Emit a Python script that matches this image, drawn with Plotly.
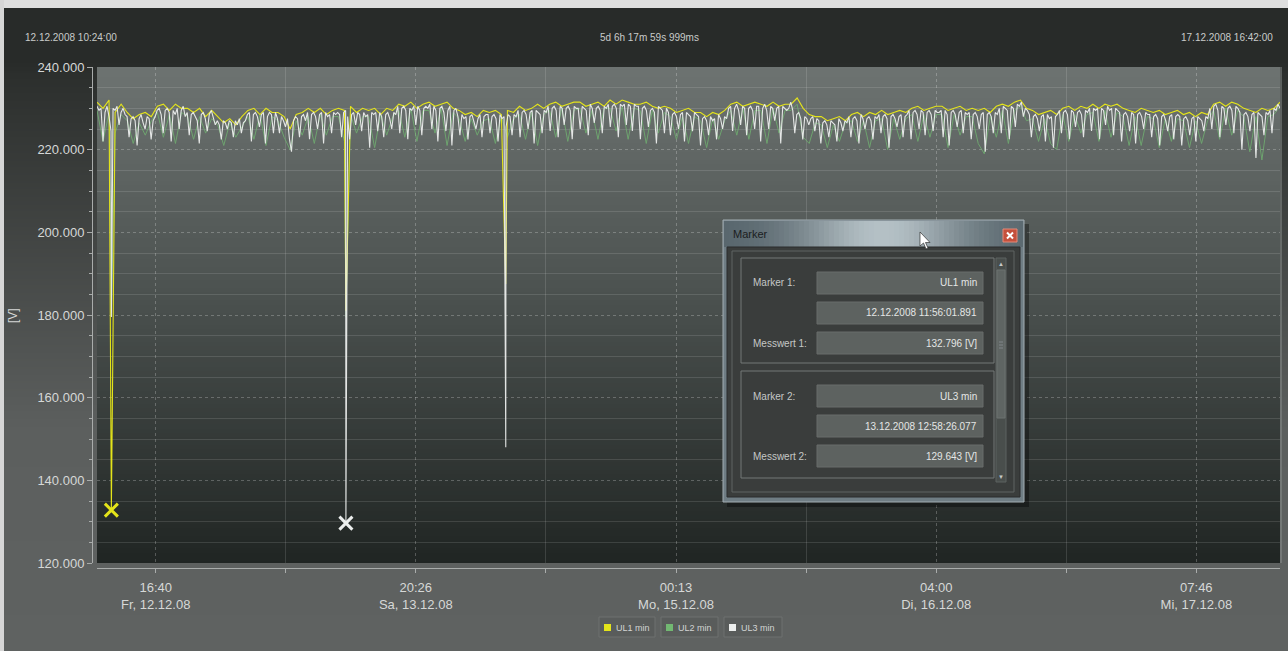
import numpy as np
import pandas as pd
import plotly.graph_objects as go

# ---------------------------------------------------------------- data
t_start = "2008-12-12 10:24:00"
t_end = "2008-12-17 16:42:00"
start_label = "12.12.2008 10:24:00"
duration_label = "5d 6h 17m 59s 999ms"
end_label = "17.12.2008 16:42:00"

# UL3 min [V], evenly sampled over the recording
ul3_min = [
    230.5, 229.5, 230, 222, 229, 230.5, 228, 224.5, 230, 229.5, 230.5, 226, 229, 230, 228.5,
    228, 223, 227.5, 228, 227, 221, 227.5, 228.5, 226.5, 225, 228, 227.5, 222.5, 227, 228,
    229.5, 230, 228.5, 224, 229.5, 230, 229, 222, 229.5, 228.5, 230, 225, 229.5, 230.5, 228,
    229, 223.5, 228.5, 229, 228, 227, 221.5, 228.5, 229, 227.5, 224.5, 228.5, 229.5, 228, 226,
    227, 226, 222.5, 227, 226.5, 225, 227, 226.5, 223, 227, 226, 227.5, 224, 226.5, 227,
    228.5, 229, 222, 228.5, 229, 228, 225.5, 228.5, 229, 221.5, 228, 229, 228.5, 224, 229,
    227.5, 224, 228, 227, 225.5, 227.5, 222.5, 219.5, 227, 228, 227.5, 223, 228, 228.5, 227,
    229, 222.5, 228.5, 229, 228, 225, 228.5, 229, 221.5, 229, 228, 228.5, 224, 229, 228.5,
    229, 228.5, 223, 229, 229.5, 228, 222.5, 228.5, 229, 226, 229, 228.5, 224.5, 229, 228,
    228.5, 220.5, 229, 228.5, 229, 224.5, 229, 228, 223, 228.5, 229, 227.5, 225, 229, 228.5,
    230.5, 224, 230, 230.5, 229.5, 222.5, 230, 229.5, 230.5, 226, 230.5, 229.5, 223.5, 230, 230.5,
    230, 231, 225, 230.5, 229.5, 222, 230, 230.5, 229, 224.5, 229.5, 230.5, 221, 229.5, 230,
    228, 223.5, 228.5, 227.5, 228, 222.5, 228, 228.5, 227, 225, 227.5, 228.5, 223, 228, 228.5,
    228.5, 224, 228, 228.5, 227.5, 222, 228.5, 227.5, 228, 225.5, 228.5, 228, 223.5, 228.5, 228,
    229.5, 223, 229, 229.5, 228.5, 225, 229, 229.5, 221.5, 229.5, 229, 228.5, 224, 229.5, 229,
    230.5, 224.5, 230, 230.5, 229.5, 223, 230.5, 230, 226, 230, 230.5, 229.5, 222.5, 230.5, 230,
    230, 225, 230.5, 230, 229.5, 223.5, 231, 230, 226.5, 230, 230.5, 229.5, 224, 230.5, 230,
    231, 225.5, 230.5, 231, 230, 223, 231, 230.5, 231, 226, 231, 230.5, 224.5, 231, 230.5,
    230.5, 222.5, 230, 230.5, 229.5, 225.5, 229.5, 230, 229, 221.5, 230.5, 230, 229.5, 224, 230,
    229, 223.5, 228.5, 229, 228, 225, 228.5, 229, 222, 229, 228.5, 228, 224.5, 229, 228.5,
    228, 221, 227.5, 228, 227, 223.5, 228, 227, 227.5, 222.5, 228.5, 227.5, 225, 228, 227.5,
    230, 230.5, 224.5, 230, 231, 229.5, 226, 230.5, 230, 223.5, 230, 230.5, 229.5, 225, 230.5,
    230.5, 222, 230, 231, 229.5, 225, 230.5, 230, 227, 230, 230.5, 221.5, 230.5, 230, 229.5,
    230, 231.5, 229.5, 224, 228.5, 229, 227.5, 222.5, 228, 227.5, 226, 227.5, 228, 224.5, 227.5,
    227, 221.5, 226.5, 227, 226, 223, 227, 226.5, 226, 222, 227.5, 226.5, 224.5, 227, 226.5,
    228, 223, 227.5, 228, 227, 221.5, 228.5, 227.5, 225, 227.5, 228, 227, 222.5, 228, 227.5,
    228.5, 224, 228, 228.5, 227.5, 220.5, 228, 228.5, 227.5, 225.5, 228, 228.5, 223, 228, 228.5,
    229.5, 222.5, 229, 229.5, 228.5, 225, 229.5, 229, 223.5, 229, 229.5, 228.5, 224.5, 229.5, 229,
    229, 229.5, 223, 229.5, 228.5, 221, 229, 229.5, 228.5, 225.5, 229, 229.5, 224, 229, 228.5,
    229, 222.5, 228.5, 229, 228, 225, 228.5, 229, 219.5, 228.5, 229, 228, 224, 229, 228.5,
    230, 224, 230.5, 230, 229.5, 222.5, 230.5, 230, 225.5, 231, 230.5, 231.5, 228, 230, 229.5,
    228.5, 223, 228, 228.5, 227.5, 224.5, 228, 228.5, 222, 228.5, 227.5, 228, 220.5, 228, 228.5,
    229.5, 224, 229, 229.5, 228.5, 222.5, 229.5, 229, 225.5, 229, 229.5, 228.5, 223, 229.5, 229,
    230, 224.5, 230, 229.5, 230, 222.5, 230, 229.5, 226, 230.5, 229.5, 230, 223.5, 230, 229.5,
    229, 222, 228.5, 229, 228, 224.5, 229, 228.5, 221.5, 228.5, 229, 228, 225, 229, 228.5,
    228.5, 223, 228, 228.5, 227.5, 221, 228, 228.5, 227, 224.5, 228, 228.5, 222.5, 228, 228.5,
    228, 221, 227.5, 228, 227, 223.5, 227.5, 228, 222, 228, 227.5, 227, 224.5, 228, 227.5,
    230, 225, 230.5, 231, 229.5, 223, 230.5, 230, 226, 230, 230.5, 229.5, 224, 230.5, 230,
    229, 220, 228.5, 229, 228, 224.5, 228.5, 229, 218, 229, 228.5, 228, 223.5, 229, 228.5,
    229.5, 224, 230, 229.5, 231, 230,
]

# UL1 min [V]
ul1_min = [
    231.5, 230, 232, 229, 231, 229, 227.5, 228.5, 229, 228,
    230.5, 231, 229.5, 231, 230, 230, 229, 230, 228, 229.5,
    228, 226.5, 227.5, 226, 228, 229.5, 230, 228.5, 230, 229,
    229, 228, 225, 228.5, 229, 230, 229, 230, 228.5, 229.5,
    230, 229.5, 230.5, 229, 230, 229.5, 230, 228.5, 230, 229.5,
    231, 230.5, 231.5, 230, 231, 231.5, 230.5, 231, 231.5, 230,
    229.5, 228.5, 229, 228, 229.5, 229, 229.5, 228.5, 229.5, 229,
    230.5, 229.5, 230, 231, 230, 231, 231.5, 230.5, 231, 231.5,
    231.5, 230.5, 231, 231.5, 230.5, 232, 231, 232, 231.5, 231,
    231, 231.5, 230.5, 230, 230.5, 230, 229, 229.5, 230, 229,
    229, 228, 229, 228.5, 229.5, 231, 231.5, 230.5, 231, 231.5,
    231, 230.5, 231.5, 230.5, 231, 231, 232.5, 230, 228.5, 228,
    228, 227, 227.5, 228, 227, 228.5, 229, 228, 229, 228.5,
    229.5, 228.5, 229, 229.5, 229, 230, 230.5, 229.5, 230, 230.5,
    230.5, 229.5, 230, 230.5, 229.5, 230, 229.5, 230, 229, 230.5,
    231, 230.5, 231.5, 232, 230, 229.5, 228.5, 229, 229.5, 228.5,
    230, 230.5, 229.5, 230.5, 230, 231, 230, 231, 230.5, 231,
    230, 229.5, 229, 230, 229.5, 229, 229.5, 228.5, 229, 229.5,
    228.5, 229, 228, 229, 228.5, 231, 231.5, 230.5, 231.5, 231,
    230, 229.5, 229, 230, 229.5, 230, 231.5,
]

# UL2 min [V]
ul2_min = [
    229.5, 222, 229, 224, 228.5, 227, 221.5, 226.5, 223.5, 227,
    229, 223, 228.5, 221.5, 229, 228, 222.5, 228, 224, 227.5,
    226, 221, 226.5, 223, 225.5, 228, 222.5, 228.5, 221, 228,
    227, 223, 220, 227, 223.5, 228, 221.5, 228.5, 223.5, 228,
    228, 222, 228.5, 224, 228, 228, 220.5, 228.5, 223.5, 228,
    229.5, 223, 230, 222, 229.5, 229.5, 224, 230, 221, 229,
    227.5, 222, 227.5, 223.5, 227, 227.5, 221.5, 228, 223, 227.5,
    228.5, 222.5, 229, 221, 228.5, 229.5, 223, 230, 222, 229.5,
    230, 224, 229.5, 222.5, 230, 230, 224.5, 230.5, 222.5, 230,
    229.5, 221.5, 229.5, 224, 229, 228, 222.5, 228, 221.5, 228,
    227, 220.5, 227.5, 222.5, 227, 229.5, 223.5, 230, 222.5, 229.5,
    229.5, 221.5, 230, 224, 229.5, 229.5, 231, 223, 221.5, 226.5,
    226, 220.5, 226, 222, 226.5, 227, 222, 227, 220.5, 227,
    227.5, 220, 227.5, 222.5, 227.5, 228.5, 222, 228.5, 223, 228.5,
    228.5, 220.5, 228.5, 223.5, 228, 228, 221.5, 219, 228, 223,
    229.5, 221.5, 229.5, 230.5, 227, 227.5, 222, 227.5, 221.5, 220,
    228.5, 222, 228.5, 224, 228.5, 229, 222, 229.5, 223, 229,
    228, 221, 228, 221, 228, 227.5, 220.5, 227.5, 222, 227.5,
    227, 220.5, 227, 221.5, 227, 229.5, 222.5, 230, 223.5, 229.5,
    228, 219.5, 228, 217.5, 228, 228.5, 230.5,
]

# short voltage dips (time, minimum value)
ul1_dip_t = ["2008-12-12 11:56:01.891", "2008-12-13 12:58:20.000", "2008-12-14 06:02:00.000"]
ul1_dip_v = [132.796, 181.0, 187.5]
ul2_dip_t = ["2008-12-12 11:56:05.000", "2008-12-13 12:58:30.000"]
ul2_dip_v = [180.5, 179.5]
ul3_dip_t = ["2008-12-12 11:56:10.000", "2008-12-13 12:58:26.077", "2008-12-14 06:02:30.000"]
ul3_dip_v = [179.5, 129.643, 148.0]

# placed markers
marker_series = ["UL1 min", "UL3 min"]
marker_t = ["2008-12-12 11:56:01.891", "2008-12-13 12:58:26.077"]
marker_v = [132.796, 129.643]

series_names = ["UL1 min", "UL2 min", "UL3 min"]

tick_times = ["2008-12-12 16:40", "2008-12-13 20:26", "2008-12-15 00:13",
              "2008-12-16 04:00", "2008-12-17 07:46"]
tick_text = ["16:40<br>Fr, 12.12.08", "20:26<br>Sa, 13.12.08", "00:13<br>Mo, 15.12.08",
             "04:00<br>Di, 16.12.08", "07:46<br>Mi, 17.12.08"]
y_min, y_max = 120, 240

# ---------------------------------------------------------------- styling
W, H = 1288, 651
PL, PR, PT, PB = 97, 1280, 67, 563          # plot area in pixels
C_UL1, C_UL2, C_UL3 = "#e4e41a", "#72b872", "#eceeed"
FONT = "Liberation Sans"


def px(x):
    return x / W


def py(y):
    return 1 - y / H


def to_dt(values):
    return pd.to_datetime(values, format="ISO8601")


def build(vals, dip_t, dip_v):
    t = pd.date_range(t_start, t_end, periods=len(vals))
    s = pd.concat([pd.Series(vals, index=t),
                   pd.Series(dip_v, index=to_dt(dip_t))]).sort_index()
    return s.index, s.values


def mix(c1, c2, f):
    a = [int(c1[i:i + 2], 16) for i in (1, 3, 5)]
    b = [int(c2[i:i + 2], 16) for i in (1, 3, 5)]
    return "rgb(%d,%d,%d)" % tuple(round(a[k] + (b[k] - a[k]) * f) for k in range(3))


fig = go.Figure()

# page background (vertical gradient)
rows = np.arange(0, H + 2, 2)
fig.add_trace(go.Heatmap(
    x=[0, W], y=rows, z=[[r, r] for r in rows], xaxis="x", yaxis="y",
    colorscale=[[0, "#282b29"], [62 / H, "#282b29"], [75 / H, "#2c2f2d"],
                [430 / H, "#5c5f5e"], [1, "#5f6261"]],
    zmin=0, zmax=H, showscale=False, hoverinfo="skip"))

# plot area background (gray at top, dark at bottom)
levels = np.linspace(y_min, y_max, 121)
fig.add_trace(go.Heatmap(
    x=[0, 1], y=levels, z=[[v, v] for v in levels], xaxis="x2", yaxis="y2",
    colorscale=[[0, "#202523"], [0.55, "#4c5250"], [1, "#6d7371"]],
    zmin=y_min, zmax=y_max, showscale=False, hoverinfo="skip"))

# measurement series
for vals, dt, dv, col, name, lw, op in [
        (ul2_min, ul2_dip_t, ul2_dip_v, C_UL2, series_names[1], 1, 0.75),
        (ul1_min, ul1_dip_t, ul1_dip_v, C_UL1, series_names[0], 1.1, 1),
        (ul3_min, ul3_dip_t, ul3_dip_v, C_UL3, series_names[2], 1.1, 0.95)]:
    tx, vy = build(vals, dt, dv)
    fig.add_trace(go.Scatter(x=tx, y=vy, mode="lines", name=name, opacity=op,
                             line=dict(color=col, width=lw), xaxis="x3", yaxis="y3",
                             hoverinfo="skip"))

fig.add_trace(go.Scatter(
    x=to_dt(marker_t), y=marker_v, mode="markers", xaxis="x3", yaxis="y3",
    marker=dict(symbol="x-thin", size=13, line=dict(width=3, color=[C_UL1, C_UL3])),
    hoverinfo="skip"))

tick_dt = pd.to_datetime(tick_times)
minor_dt = [tick_dt[i] + (tick_dt[i + 1] - tick_dt[i]) / 2 for i in range(len(tick_dt) - 1)]

AXC = "#a9acab"
fig.update_layout(
    template="none",
    width=W, height=H, autosize=False,
    margin=dict(l=0, r=0, t=0, b=0, pad=0, autoexpand=False),
    paper_bgcolor="#5e6160", plot_bgcolor="rgba(0,0,0,0)", showlegend=False,
    font=dict(family=FONT, color="#d4d6d5"),
    xaxis=dict(domain=[0, 1], range=[0, W], visible=False, fixedrange=True, automargin=False),
    yaxis=dict(domain=[0, 1], range=[H, 0], visible=False, fixedrange=True, automargin=False),
    xaxis2=dict(domain=[px(PL), px(PR)], range=[0, 1], visible=False, anchor="y2",
                automargin=False),
    yaxis2=dict(domain=[py(PB), py(PT)], range=[y_min, y_max], visible=False, anchor="x2",
                automargin=False),
    xaxis3=dict(
        domain=[px(PL), px(PR)], range=[pd.Timestamp(t_start), pd.Timestamp(t_end)],
        type="date", anchor="free", position=py(568), automargin=False,
        showline=True, linecolor=AXC, linewidth=1,
        ticks="outside", ticklen=4, tickcolor=AXC, ticklabelstandoff=3,
        tickmode="array", tickvals=tick_dt, ticktext=tick_text,
        tickfont=dict(family=FONT, size=13, color="#d6d8d7"),
        showgrid=True, gridcolor="rgba(255,255,255,0.24)", griddash="3px,3px", gridwidth=1,
        zeroline=False,
        minor=dict(tickmode="array", tickvals=minor_dt, ticks="outside", ticklen=4,
                   tickcolor=AXC, showgrid=True, gridcolor="rgba(255,255,255,0.13)",
                   griddash="solid"),
    ),
    yaxis3=dict(
        domain=[py(PB), py(PT)], range=[y_min, y_max], anchor="free", position=px(92),
        automargin=False,
        showline=True, linecolor=AXC, linewidth=1,
        ticks="outside", ticklen=5, tickcolor=AXC, tick0=y_min, dtick=20,
        tickformat=".3f", tickfont=dict(family=FONT, size=13, color="#d6d8d7"),
        showgrid=True, gridcolor="rgba(255,255,255,0.24)", griddash="3px,3px",
        zeroline=False,
        minor=dict(dtick=5, ticks="outside", ticklen=3, tickcolor=AXC,
                   showgrid=True, gridcolor="rgba(255,255,255,0.12)", griddash="solid"),
    ),
)

shapes = []
annos = []


def rect(x0, y0, x1, y1, fill=None, line=None, lw=1):
    shapes.append(dict(type="rect", xref="paper", yref="paper",
                       x0=px(x0), x1=px(x1), y0=py(y1), y1=py(y0),
                       fillcolor=fill or "rgba(0,0,0,0)",
                       line=dict(color=line or "rgba(0,0,0,0)", width=lw if line else 0),
                       layer="above"))


def seg(x0, y0, x1, y1, color, w=1):
    shapes.append(dict(type="line", xref="paper", yref="paper",
                       x0=px(x0), x1=px(x1), y0=py(y0), y1=py(y1),
                       line=dict(color=color, width=w), layer="above"))


def text(x, y, s, size=10, color="#d4d6d5", anchor="left", angle=0):
    annos.append(dict(xref="paper", yref="paper", x=px(x), y=py(y), text=s,
                      showarrow=False, xanchor=anchor, yanchor="middle", textangle=angle,
                      font=dict(family=FONT, size=size, color=color)))


# outer light frame
rect(0, 0, W, 8, fill="#dedede")
rect(0, 0, 4, H, fill="#d6d6d6")
# thin light edge on the right of the plot area
seg(PR + 1, PT, PR + 1, PB, "#8a8f8d", 1)

# header
text(23, 37, start_label, 10, "#c9cbca", "left")
text(649, 37, duration_label, 10, "#c9cbca", "center")
text(1275, 37, end_label, 10, "#c9cbca", "right")
text(13, 316, "[V]", 12, "#d6d8d7", "center", -90)

# legend
leg_boxes = [(599, 655), (661, 718), (724, 782)]
for (x0, x1), name, col in zip(leg_boxes, series_names, [C_UL1, C_UL2, C_UL3]):
    rect(x0, 617, x1, 637, fill="#595c5b", line="#6e7170")
    rect(x0 + 5, 624, x0 + 12, 631, fill=col)
    text(x0 + 15, 627.5, name, 9, "#d2d4d3", "left")

# marker window
rect(727, 224, 1029, 507, fill="rgba(0,0,0,0.35)")
rect(723, 220, 1024, 502, fill="#6f7d84", line="#a3aeb3")
strip = 5
for x in range(724, 1023, strip):
    f = float(np.exp(-((x - 880) / 85.0) ** 2))
    rect(x, 221, min(x + strip, 1023), 247, fill=mix("#56646b", "#b4c0c5", f))
rect(727, 247, 1020, 497, fill="#3a3d3c", line="#2b2d2c")
rect(732, 251, 1014, 492, line="#5f6563")
text(731, 234, "Marker", 11, "#1b1d1e", "left")
# close button
rect(1003, 229, 1017, 242, fill="#c5503c", line="#e48a78")
seg(1007, 232.5, 1013, 238.5, "#ffffff", 2)
seg(1007, 238.5, 1013, 232.5, "#ffffff", 2)

field_rows = []
for k, (name, ts, val) in enumerate(zip(marker_series, marker_t, marker_v)):
    stamp = pd.Timestamp(ts)
    ts_txt = stamp.strftime("%d.%m.%Y %H:%M:%S.") + "%03d" % (stamp.microsecond // 1000)
    field_rows.append((name, ts_txt, f"{val:.3f} [V]"))

groups = [(258, 363, 272), (371, 478, 385)]
for k, ((g0, g1, f0), vals) in enumerate(zip(groups, field_rows)):
    rect(741, g0, 994, g1, line="#737876")
    for j, s in enumerate(vals):
        y0 = f0 + j * 30
        rect(817, y0, 983, y0 + 22, fill="#5d6260", line="#686d6b")
        text(979, y0 + 11, s, 10, "#e4e6e5", "right")
    text(751, f0 + 11, f"Marker {k + 1}:", 10, "#c5c8c6", "left")
    text(751, f0 + 71, f"Messwert {k + 1}:", 10, "#c5c8c6", "left")

# scrollbar
rect(996, 258, 1006, 482, fill="#494e4c", line="#5d6260")
rect(997, 270, 1005, 418, fill="#5f6563", line="#6c7270")
text(1001, 264, "▲", 6, "#c8cac9", "center")
text(1001, 477, "▼", 6, "#c8cac9", "center")
for gy in (342, 345, 348):
    seg(999, gy, 1003, gy, "#80868a", 1)

# mouse pointer
pts = [(920, 232), (920, 246), (923.5, 243), (926, 249), (928, 248), (925.5, 242.5), (930, 242.5)]
path = "M" + " L".join(f"{px(x):.5f},{py(y):.5f}" for x, y in pts) + " Z"
shapes.append(dict(type="path", xref="paper", yref="paper", path=path,
                   fillcolor="#ffffff", line=dict(color="#333333", width=0.7), layer="above"))

fig.update_layout(shapes=shapes, annotations=annos)
fig.write_html("out.html",
               post_script="document.body.style.margin='0';document.body.style.overflow='hidden';")
